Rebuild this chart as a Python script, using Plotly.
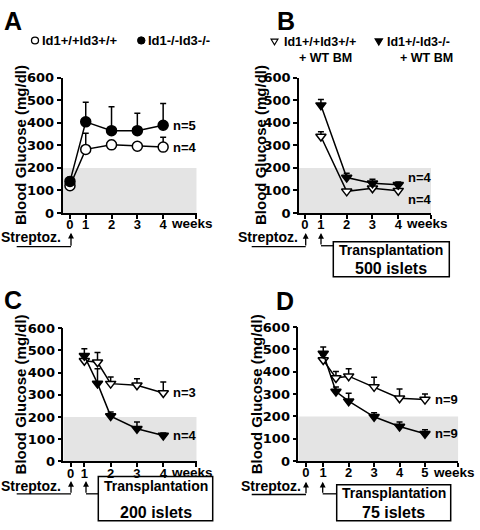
import plotly.graph_objects as go

W, H = 480, 530
def px(x): return x / W
def py(y): return 1 - y / H

ARIAL = "Liberation Sans, Arial, sans-serif"
DEJAVU = "DejaVu Sans, sans-serif"

# ---------------- data ----------------
weeks_A = [0, 1, 2, 3, 4]
A_wt = [121, 282, 302, 296, 292]
A_wt_err = [8, 71, 19, 9, 44]
A_ko = [140, 404, 365, 365, 389]
A_ko_err = [18, 87, 106, 77, 96]

weeks_B = [1, 2, 3, 4]
B_wt = [339, 96, 110, 99]
B_wt_err = [21, 6, 6, 6]
B_ko = [478, 157, 132, 125]
B_ko_err = [25, 19, 18, 12]

weeks_C = [1, 1.5, 2, 3, 4]
C_wt = [453, 446, 350, 343, 308]
C_wt_err = [20, 44, 30, 29, 49]
C_ko = [475, 351, 204, 147, 117]
C_ko_err = [32, 66, 19, 31, 11]

weeks_D = [1, 1.5, 2, 3, 4, 5]
D_wt = [452, 372, 380, 332, 281, 275]
D_wt_err = [20, 29, 33, 43, 41, 25]
D_ko = [481, 311, 268, 198, 155, 122]
D_ko_err = [29, 21, 35, 18, 20, 18]

y_ticks = [0, 100, 200, 300, 400, 500, 600]
normo_limit = 200

legend_A = ["Id1+/+Id3+/+", "Id1-/-Id3-/-"]
legend_B = ["Id1+/+Id3+/+", "Id1+/-Id3-/-"]
legend_B2 = "+ WT BM"
islets = {"B": "500 islets", "C": "200 islets", "D": "75 islets"}

panels = [
    dict(key="A", n=1, dom_x=(62.5, 196.7), dom_y=(72.7, 212), xr=(0.1, 5.3), zero=0.39,
         xt=[0, 1, 2, 3, 4], wk=weeks_A, wt=A_wt, wte=A_wt_err, ko=A_ko, koe=A_ko_err,
         sym="circle", msize=10),
    dict(key="B", n=2, dom_x=(299, 431), dom_y=(72.7, 212), xr=(0.15, 5.27), zero=0.38,
         xt=[0, 1, 2, 3, 4], wk=weeks_B, wt=B_wt, wte=B_wt_err, ko=B_ko, koe=B_ko_err,
         sym="triangle-down", msize=9),
    dict(key="C", n=3, dom_x=(63.3, 196.7), dom_y=(330.4, 467.7), xr=(0.2, 5.27), zero=0.48,
         xt=[0, 1, 2, 3, 4], wk=weeks_C, wt=C_wt, wte=C_wt_err, ko=C_ko, koe=C_ko_err,
         sym="triangle-down", msize=9),
    dict(key="D", n=4, dom_x=(298.3, 458.3), dom_y=(329.3, 467.3), xr=(0.02, 6.31), zero=0.32,
         xt=[0, 1, 2, 3, 4, 5], wk=weeks_D, wt=D_wt, wte=D_wt_err, ko=D_ko, koe=D_ko_err,
         sym="triangle-down", msize=9),
]

fig = go.Figure()
annotations = []
shapes = []

def disp(weeks, zero):
    return [zero if w == 0 else w for w in weeks]

def txt(s, x, y, size, xanchor="center", family=ARIAL, angle=0, yanchor="middle"):
    annotations.append(dict(text=s, x=px(x), y=py(y), xref="paper", yref="paper",
                            xanchor=xanchor, yanchor=yanchor, showarrow=False,
                            textangle=angle,
                            font=dict(family=family, size=size, color="black", weight="bold")))

def hline(x0, x1, y, w=1.3):
    shapes.append(dict(type="line", xref="paper", yref="paper", x0=px(x0), x1=px(x1),
                       y0=py(y), y1=py(y), line=dict(color="black", width=w)))

def arrow_up(x, ytip, ybot):
    annotations.append(dict(text="", x=px(x), y=py(ytip), xref="paper", yref="paper",
                            ax=0, ay=ybot - ytip, showarrow=True, arrowhead=2,
                            arrowsize=0.9, arrowwidth=1.3, arrowcolor="black"))

for p in panels:
    sfx = "" if p["n"] == 1 else str(p["n"])
    xa, ya = "x" + sfx, "y" + sfx
    xd_wt = disp(p["wk"], p["zero"])
    common = dict(xaxis=xa, yaxis=ya, mode="lines+markers", cliponaxis=False,
                  line=dict(color="black", width=1.5), showlegend=False)
    fig.add_trace(go.Scatter(x=xd_wt, y=p["wt"],
                             error_y=dict(type="data", array=p["wte"], arrayminus=[0] * len(p["wte"]),
                                          symmetric=False, color="black", thickness=1.5, width=3),
                             marker=dict(symbol=p["sym"], size=p["msize"], color="white",
                                         line=dict(color="black", width=1.5)), **common))
    fig.add_trace(go.Scatter(x=xd_wt, y=p["ko"],
                             error_y=dict(type="data", array=p["koe"], arrayminus=[0] * len(p["koe"]),
                                          symmetric=False, color="black", thickness=1.5, width=3),
                             marker=dict(symbol=p["sym"], size=p["msize"], color="black",
                                         line=dict(color="black", width=1.5)), **common))
    tv = disp(p["xt"], p["zero"]) + [p["xr"][1] - 0.01]
    tt = [str(t) for t in p["xt"]] + [""]
    fig.update_layout(**{
        "xaxis" + sfx: dict(domain=[px(p["dom_x"][0]), px(p["dom_x"][1])], range=list(p["xr"]),
                            anchor=ya, tickvals=tv, ticktext=tt, ticks="outside", ticklen=4,
                            tickwidth=1.5, tickcolor="black", showline=True, linewidth=1.5,
                            linecolor="black", showgrid=False, zeroline=False,
                            ticklabelstandoff=-5,
                            tickfont=dict(family=ARIAL, size=13, color="black", weight="bold")),
        "yaxis" + sfx: dict(domain=[py(p["dom_y"][1]), py(p["dom_y"][0])], range=[0, 600],
                            anchor=xa, tickvals=y_ticks, ticks="outside", ticklen=4,
                            tickwidth=1.5, tickcolor="black", showline=True, linewidth=1.5,
                            linecolor="black", showgrid=False, zeroline=False,
                            tickfont=dict(family=DEJAVU, size=13, color="black", weight="bold")),
    })
    # normoglycemic band
    shapes.append(dict(type="rect", xref=xa, yref=ya, x0=p["xr"][0], x1=p["xr"][1],
                       y0=0, y1=normo_limit, fillcolor="#e4e4e4", line=dict(width=0),
                       layer="below"))
    last = p["xt"][-1]
    ytick_lab = p["dom_y"][1] + 11.3
    annotations.append(dict(text="weeks", x=last, xref=xa, y=py(ytick_lab), yref="paper",
                            xanchor="left", yanchor="middle", xshift=6, showarrow=False,
                            font=dict(family=ARIAL, size=13.5, color="black", weight="bold")))
    # y title
    dy = (p["dom_y"][0] + p["dom_y"][1]) / 2
    ytx = {"A": 20.7, "B": 260.7, "C": 20.7, "D": 256.3}[p["key"]]
    txt("Blood Glucose (mg/dl)", ytx, dy, 15, angle=-90)

# n labels
def nlab(s, xa, x, y):
    annotations.append(dict(text=s, x=x, y=y, xref=xa, yref=xa.replace("x", "y"),
                            xanchor="left", yanchor="middle", xshift=8, showarrow=False,
                            font=dict(family=ARIAL, size=13, color="black", weight="bold")))

nlab("n=5", "x", weeks_A[-1], A_ko[-1])
nlab("n=4", "x", weeks_A[-1], A_wt[-1])
nlab("n=4", "x2", weeks_B[-1], 158)
nlab("n=4", "x2", weeks_B[-1], 60)
nlab("n=3", "x3", weeks_C[-1], C_wt[-1])
nlab("n=4", "x3", weeks_C[-1], C_ko[-1])
nlab("n=9", "x4", weeks_D[-1], D_wt[-1])
nlab("n=9", "x4", weeks_D[-1], D_ko[-1])

# panel letters
txt("A", 12.5, 14.5, 25)
txt("B", 285.8, 14.5, 25)
txt("C", 12.5, 301.5, 25)
txt("D", 284.7, 303, 25)

# legends
shapes.append(dict(type="circle", xref="paper", yref="paper", x0=px(31.5), x1=px(38.5),
                   y0=py(38), y1=py(31), fillcolor="white", line=dict(color="black", width=1.3)))
txt(legend_A[0], 40, 34.5, 13, xanchor="left")
shapes.append(dict(type="circle", xref="paper", yref="paper", x0=px(137.5), x1=px(145),
                   y0=py(38.2), y1=py(30.7), fillcolor="black", line=dict(color="black", width=1)))
txt(legend_A[1], 146, 34.5, 13, xanchor="left")

def tri(cx, cy, w, fill):
    h = w * 0.85
    path = "M {} {} L {} {} L {} {} Z".format(px(cx - w / 2), py(cy - h / 2), px(cx + w / 2),
                                               py(cy - h / 2), px(cx), py(cy + h / 2))
    shapes.append(dict(type="path", xref="paper", yref="paper", path=path, fillcolor=fill,
                       line=dict(color="black", width=1.1)))

tri(274.5, 36, 7, "white")
txt(legend_B[0], 281.5, 36, 12.5, xanchor="left")
txt(legend_B2, 296.5, 52.7, 12.5, xanchor="left")
tri(378.8, 36, 7.5, "black")
txt(legend_B[1], 385, 36, 12.5, xanchor="left")
txt(legend_B2, 398.3, 52.7, 12.5, xanchor="left")

# Streptozotocin / transplantation annotations
# Panel A
txt("Streptoz.", 63.3, 236.7, 14, xanchor="right")
hline(16.7, 71, 246.7)
arrow_up(71, 232.3, 246.7)
# Panel B
txt("Streptoz.", 300, 236.7, 14, xanchor="right")
hline(251.7, 305.7, 246.7)
arrow_up(305.7, 232.5, 246.7)
arrow_up(321, 232.5, 245.7)
hline(321, 333.3, 245.7)
shapes.append(dict(type="rect", xref="paper", yref="paper", x0=px(333.3), x1=px(449.3),
                   y0=py(277.7), y1=py(241.7), line=dict(color="black", width=1.5)))
txt("Transplantation", 391.3, 249.8, 14)
txt(islets["B"], 391.3, 268.8, 16)
# Panel C
txt("Streptoz.", 63.3, 492.7, 14, xanchor="right")
hline(16.7, 71, 501)
arrow_up(71, 487.7, 501)
arrow_up(86, 487.7, 501)
hline(86, 98.3, 501)
shapes.append(dict(type="rect", xref="paper", yref="paper", x0=px(98.3), x1=px(212.7),
                   y0=py(528.8), y1=py(483.3), line=dict(color="black", width=1.5)))
txt("Transplantation", 155.5, 492.5, 14)
txt(islets["C"], 155.5, 520, 16)
# Panel D
txt("Streptoz.", 303.3, 492.7, 14, xanchor="right")
hline(251.7, 306, 501.7)
arrow_up(306, 488.5, 501.7)
arrow_up(322.7, 488.5, 501)
hline(322.7, 336.7, 501)
shapes.append(dict(type="rect", xref="paper", yref="paper", x0=px(336.7), x1=px(450.7),
                   y0=py(528.8), y1=py(491.7), line=dict(color="black", width=1.5)))
txt("Transplantation", 393.7, 500.5, 14)
txt(islets["D"], 393.7, 520, 16)

fig.update_layout(width=W, height=H, margin=dict(l=0, r=0, t=0, b=0),
                  plot_bgcolor="white", paper_bgcolor="white", showlegend=False,
                  annotations=annotations, shapes=shapes)

fig.write_html("out.html", config={"displayModeBar": False},
               post_script="document.body.style.margin='0px';document.body.style.padding='0px';")
